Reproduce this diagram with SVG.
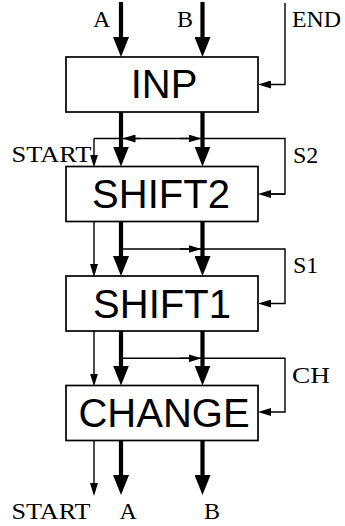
<svg xmlns="http://www.w3.org/2000/svg" width="345" height="526" viewBox="0 0 345 526">
  <style>
    .box { fill: #fff; stroke: #000; stroke-width: 1.7; }
    .name { font-family: "Liberation Sans", Arial, sans-serif; font-size: 40px; fill: #000; text-anchor: middle; }
    .lbl { font-family: "Liberation Serif", "Times New Roman", serif; font-size: 24px; fill: #000; }
    .bus { fill: none; stroke: #000; stroke-width: 4.2; }
    .sig { fill: none; stroke: #000; stroke-width: 1.4; }
    .bus-end { marker-end: url(#headBig); }
    .sig-end { marker-end: url(#headSmall); }
  </style>
  <defs>
    <marker id="headBig" markerUnits="userSpaceOnUse" viewBox="0 0 20 16" markerWidth="20" markerHeight="16" refX="10" refY="8" orient="auto">
      <path d="M0,0 L20,8 L0,16 z" fill="#000"/>
    </marker>
    <marker id="headSmall" markerUnits="userSpaceOnUse" viewBox="0 0 13 8" markerWidth="13" markerHeight="8" refX="6" refY="4" orient="auto">
      <path d="M0,0 L13,4 L0,8 z" fill="#000"/>
    </marker>
  </defs>
  <rect width="345" height="526" fill="#fff"/>

  <!-- wiring between the stages -->
  <g id="connectors">
    <!-- inputs A, B into INP -->
    <line class="bus bus-end" x1="121" y1="2" x2="121" y2="47"/>
    <line class="bus bus-end" x1="202.5" y1="2" x2="202.5" y2="47"/>
    <!-- END feedback into INP -->
    <polyline class="sig sig-end" points="285,3 285,84.5 265,84.5"/>

    <!-- INP to SHIFT2 -->
    <polyline class="sig" points="94,138.5 285,138.5 285,194 265,194"/>
    <line class="sig sig-end" x1="285" y1="194" x2="265" y2="194"/>
    <line class="sig sig-end" x1="94" y1="138.5" x2="94" y2="160.5"/>
    <line class="sig sig-end" x1="140" y1="138.5" x2="129.5" y2="138.5"/>
    <line class="sig sig-end" x1="180" y1="138.5" x2="194.5" y2="138.5"/>
    <line class="bus bus-end" x1="121" y1="112" x2="121" y2="156.5"/>
    <line class="bus bus-end" x1="202.5" y1="112" x2="202.5" y2="156.5"/>

    <!-- SHIFT2 to SHIFT1 -->
    <line class="sig sig-end" x1="94" y1="221.5" x2="94" y2="270"/>
    <polyline class="sig sig-end" points="121,249 285,249 285,303.5 265,303.5"/>
    <line class="sig sig-end" x1="180" y1="249" x2="194.5" y2="249"/>
    <line class="bus bus-end" x1="121" y1="221.5" x2="121" y2="266"/>
    <line class="bus bus-end" x1="202.5" y1="221.5" x2="202.5" y2="266"/>

    <!-- SHIFT1 to CHANGE -->
    <line class="sig sig-end" x1="94" y1="331" x2="94" y2="379.5"/>
    <polyline class="sig sig-end" points="121,358.3 285,358.3 285,412 265,412"/>
    <line class="sig sig-end" x1="180" y1="358.3" x2="194.5" y2="358.3"/>
    <line class="bus bus-end" x1="121" y1="331" x2="121" y2="375.5"/>
    <line class="bus bus-end" x1="202.5" y1="331" x2="202.5" y2="375.5"/>

    <!-- outputs of CHANGE -->
    <line class="sig sig-end" x1="94" y1="440.5" x2="94" y2="489"/>
    <line class="bus bus-end" x1="121" y1="440.5" x2="121" y2="485"/>
    <line class="bus bus-end" x1="202.5" y1="440.5" x2="202.5" y2="485"/>
  </g>

  <g id="inp">
    <rect class="box" x="66" y="57" width="192" height="55"/>
    <text class="name" x="164" y="97.5">INP</text>
  </g>
  <g id="shift2">
    <rect class="box" x="66" y="166.5" width="192" height="55"/>
    <text class="name" x="161" y="207.5">SHIFT2</text>
  </g>
  <g id="shift1">
    <rect class="box" x="66" y="276" width="192" height="55"/>
    <text class="name" x="162" y="317.5">SHIFT1</text>
  </g>
  <g id="change">
    <rect class="box" x="66" y="385.5" width="192" height="55"/>
    <text class="name" x="164" y="427">CHANGE</text>
  </g>

  <!-- signal labels -->
  <g id="labels">
    <text class="lbl" x="93" y="27">A</text>
    <text class="lbl" x="177" y="27">B</text>
    <text class="lbl" x="292" y="27" textLength="49" lengthAdjust="spacingAndGlyphs">END</text>
    <text class="lbl" x="11.5" y="162" textLength="80" lengthAdjust="spacingAndGlyphs">START</text>
    <text class="lbl" x="293" y="163">S2</text>
    <text class="lbl" x="293" y="272.5">S1</text>
    <text class="lbl" x="292" y="382.5" textLength="38" lengthAdjust="spacingAndGlyphs">CH</text>
    <text class="lbl" x="11.5" y="519" textLength="79" lengthAdjust="spacingAndGlyphs">START</text>
    <text class="lbl" x="119.5" y="519">A</text>
    <text class="lbl" x="204" y="519">B</text>
  </g>
</svg>
